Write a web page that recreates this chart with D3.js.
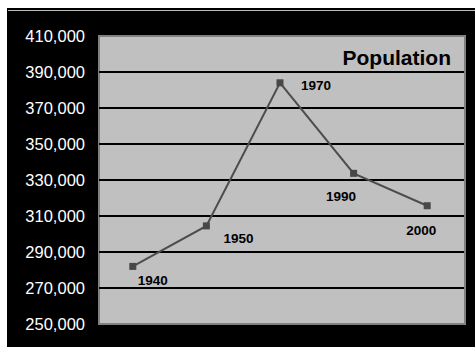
<!DOCTYPE html>
<html><head><meta charset="utf-8">
<script src="https://cdn.jsdelivr.net/npm/d3@7"></script>
<style>body{margin:0;background:#fff}svg{display:block}</style>
</head><body>
<svg id="c" width="475" height="348"></svg>
<script>
const years = ["1940", "1950", "1970", "1990", "2000"];
const population = [282000, 304500, 384000, 333700, 315700];
const yTicks = [250000, 270000, 290000, 310000, 330000, 350000, 370000, 390000, 410000];
const title = "Population";
// layout-only label offsets [dx, dy] from each point
const labelOffsets = [[5, 18.5], [17, 17], [21, 7], [-27.5, 27.5], [-21, 29]];

const svg = d3.select("#c");
const plot = {left: 99, top: 36, right: 465, bottom: 324};

svg.append("rect").attr("x", 7).attr("y", 8).attr("width", 468).attr("height", 339).attr("fill", "#000");
svg.append("line").attr("x1", 8).attr("x2", 475).attr("y1", 10.5).attr("y2", 10.5).attr("stroke", "#bbb").attr("stroke-width", 1);

const x = d3.scaleBand().domain(years).range([96, 464]);
const y = d3.scaleLinear().domain([250000, 410000]).range([plot.bottom, plot.top]);

svg.append("rect").attr("x", plot.left).attr("y", plot.top)
  .attr("width", plot.right - plot.left).attr("height", plot.bottom - plot.top)
  .attr("fill", "#c0c0c0").attr("stroke", "#808080").attr("stroke-width", 2);

svg.append("g").selectAll("line").data(yTicks.slice(1, -1)).join("line")
  .attr("x1", plot.left).attr("x2", plot.right - 1)
  .attr("y1", d => y(d)).attr("y2", d => y(d))
  .attr("stroke", "#000").attr("stroke-width", 2);

const axis = d3.axisLeft(y).tickValues(yTicks).tickFormat(d3.format(",")).tickSize(0).tickPadding(14);
const ga = svg.append("g").attr("transform", `translate(${plot.left},0)`).call(axis);
ga.select(".domain").remove();
ga.selectAll("text").attr("fill", "#fff").attr("font-family", "Liberation Sans, Arial, sans-serif")
  .attr("font-size", 16.5).attr("dy", "0.34em");

const cx = d => x(d) + x.bandwidth() / 2;
const line = d3.line().x((d, i) => cx(years[i])).y(d => y(d));
svg.append("path").datum(population).attr("d", line)
  .attr("fill", "none").attr("stroke", "#4d4d4d").attr("stroke-width", 2);

svg.append("g").selectAll("rect").data(population).join("rect")
  .attr("x", (d, i) => cx(years[i]) - 3.5).attr("y", d => y(d) - 3.5)
  .attr("width", 7).attr("height", 7).attr("fill", "#484848");

svg.append("g").selectAll("text").data(population).join("text")
  .attr("x", (d, i) => cx(years[i]) + labelOffsets[i][0])
  .attr("y", (d, i) => y(d) + labelOffsets[i][1])
  .attr("font-family", "Liberation Sans, Arial, sans-serif").attr("font-weight", "bold")
  .attr("font-size", 13.5).attr("fill", "#000")
  .text((d, i) => years[i]);

svg.append("text").attr("x", 451).attr("y", 65).attr("text-anchor", "end")
  .attr("font-family", "Liberation Sans, Arial, sans-serif").attr("font-weight", "bold")
  .attr("font-size", 21).attr("fill", "#000").text(title);
</script>
</body></html>
